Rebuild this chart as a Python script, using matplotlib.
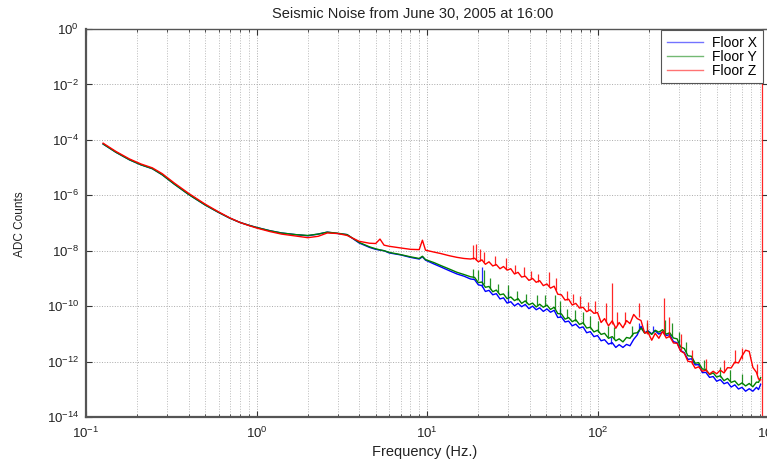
import numpy as np
import matplotlib
matplotlib.use("Agg")
import matplotlib.pyplot as plt
from matplotlib.ticker import LogLocator, NullFormatter, NullLocator

plt.rcParams['font.family'] = ['Liberation Sans', 'DejaVu Sans']

# ---------------- data (values stored as log10 of ADC counts) ----------------
freq_low = [0.126, 0.15, 0.18, 0.21, 0.245, 0.28, 0.33, 0.40, 0.50, 0.60, 0.70, 0.80,
            0.90, 1.0, 1.2, 1.4, 1.7, 2.0, 2.3, 2.6, 3.0, 3.4, 4.0, 4.6, 5.0, 5.3,
            5.6, 6.0, 7.0, 8.0, 9.0, 9.4, 9.8, 11.0, 12.0, 13.5, 15.0, 16.5, 18.0]

floor_x_low = [-4.15, -4.45, -4.72, -4.90, -5.04, -5.26, -5.60, -5.97, -6.35, -6.62, -6.83, -6.98,
               -7.08, -7.16, -7.28, -7.36, -7.42, -7.46, -7.40, -7.33, -7.38, -7.42, -7.72, -7.88,
               -7.95, -7.98, -8.00, -8.08, -8.15, -8.24, -8.30, -8.22, -8.34, -8.48, -8.58, -8.72,
               -8.84, -8.92, -9.02]
floor_y_low = [-4.15, -4.45, -4.72, -4.90, -5.04, -5.26, -5.60, -5.97, -6.35, -6.62, -6.83, -6.98,
               -7.08, -7.16, -7.28, -7.36, -7.42, -7.45, -7.40, -7.33, -7.37, -7.42, -7.70, -7.86,
               -7.93, -7.97, -8.00, -8.06, -8.14, -8.22, -8.28, -8.20, -8.32, -8.43, -8.53, -8.66,
               -8.78, -8.86, -8.94]
floor_z_low = [-4.12, -4.42, -4.69, -4.87, -5.01, -5.22, -5.56, -5.93, -6.32, -6.60, -6.82, -6.98,
               -7.09, -7.18, -7.31, -7.40, -7.47, -7.53, -7.48, -7.36, -7.38, -7.45, -7.66, -7.73,
               -7.74, -7.58, -7.80, -7.84, -7.90, -7.95, -7.96, -7.62, -7.98, -8.05, -8.10, -8.18,
               -8.24, -8.28, -8.30]

freq_high = [19.0, 20.0, 21.0, 22.0, 23.1, 24.3, 25.5, 26.8, 28.1, 29.5, 31.0, 32.6, 34.2, 35.9,
             37.7, 39.6, 41.6, 43.7, 45.8, 48.1, 50.5, 53.0, 55.7, 58.5, 61.4, 64.5, 67.7, 71.1,
             74.6, 78.4, 82.3, 86.4, 90.7, 95.3, 100, 105, 110, 116, 122, 128, 134, 141, 148,
             155, 163, 171, 180, 189, 198, 208, 218, 229, 241, 253, 265, 279, 293, 307, 323,
             339, 356, 374, 392, 412, 432, 454, 477, 500, 525, 552, 579, 608, 639, 671, 704,
             739, 776, 815, 856, 880, 905]

floor_x_high = [-9.04, -9.23, -9.26, -9.47, -9.43, -9.59, -9.55, -9.74, -9.70, -9.89, -9.84, -9.99,
                -9.90, -10.02, -9.94, -10.09, -10.00, -10.13, -10.06, -10.19, -10.10, -10.22,
                -10.15, -10.41, -10.39, -10.57, -10.54, -10.71, -10.65, -10.79, -10.75, -10.96,
                -10.92, -11.10, -11.06, -11.25, -11.21, -11.37, -11.32, -11.49, -11.39, -11.49,
                -11.38, -11.43, -11.20, -11.04, -10.73, -10.96, -10.89, -11.00, -10.89, -11.01,
                -10.93, -11.06, -11.03, -11.28, -11.32, -11.60, -11.68, -11.92, -11.90, -12.12,
                -12.11, -12.40, -12.39, -12.57, -12.54, -12.71, -12.65, -12.80, -12.75, -12.92,
                -12.84, -12.99, -12.93, -13.07, -12.98, -13.07, -12.93, -13.01, -12.82]
floor_y_high = [-8.96, -9.15, -9.13, -9.32, -9.29, -9.48, -9.42, -9.59, -9.56, -9.73, -9.67, -9.80,
                -9.73, -9.90, -9.81, -9.95, -9.89, -10.03, -9.93, -10.04, -9.96, -10.12, -10.04,
                -10.27, -10.28, -10.47, -10.41, -10.56, -10.49, -10.66, -10.60, -10.79, -10.76,
                -10.93, -10.87, -11.02, -10.98, -11.16, -11.10, -11.25, -11.18, -11.29, -11.13,
                -11.16, -10.98, -10.96, -10.79, -10.97, -10.92, -11.02, -10.87, -10.94, -10.85,
                -11.01, -10.96, -11.15, -11.18, -11.47, -11.53, -11.79, -11.81, -12.06, -12.04,
                -12.27, -12.28, -12.47, -12.41, -12.56, -12.51, -12.69, -12.61, -12.75, -12.70,
                -12.85, -12.77, -12.88, -12.79, -12.91, -12.74, -12.75, -12.58]
floor_z_high = [-8.27, -8.40, -8.33, -8.49, -8.40, -8.55, -8.50, -8.65, -8.57, -8.70, -8.65, -8.84,
                -8.78, -8.95, -8.92, -9.07, -9.00, -9.14, -9.08, -9.26, -9.20, -9.35, -9.28, -9.57,
                -9.59, -9.78, -9.75, -9.96, -9.90, -10.07, -10.04, -10.20, -10.13, -10.26, -10.23,
                -10.59, -10.45, -10.71, -10.53, -10.80, -10.59, -10.78, -10.52, -10.63, -10.30,
                -10.45, -10.52, -10.97, -10.95, -11.23, -10.98, -11.16, -10.91, -11.15, -11.09,
                -11.33, -11.34, -11.62, -11.70, -11.99, -12.01, -12.24, -12.19, -12.35, -12.31,
                -12.45, -12.35, -12.44, -12.31, -12.41, -12.22, -12.23, -12.02, -12.05, -11.80,
                -11.59, -11.63, -12.21, -12.39, -12.63, -12.66]

# narrow line peaks: frequency, local floor, peak (log10)
x_peak_freq = [21.0, 30.0, 60.0, 120.0, 176.0, 212.0, 300.0]
x_peak_base = [-9.30, -9.86, -10.40, -11.38, -10.90, -10.95, -11.45]
x_peak_top = [-8.58, -9.45, -10.10, -11.10, -10.60, -10.70, -11.20]

y_peak_freq = [18.5, 19.8, 21.5, 23.5, 26.0, 30.0, 33.5, 38.0, 44.0, 49.0, 56.0, 60.0, 66.0,
               74.0, 82.0, 90.0, 100.0, 115.0, 125.0, 160.0, 195.0, 250.0, 275.0, 300.0,
               330.0, 420.0, 520.0, 600.0, 700.0, 800.0]
y_peak_base = [-8.98, -9.05, -9.20, -9.38, -9.50, -9.68, -9.78, -9.88, -9.96, -10.00, -10.10,
               -10.28, -10.44, -10.55, -10.65, -10.78, -10.92, -11.10, -11.18, -11.08, -10.95,
               -10.94, -11.08, -11.30, -11.65, -12.25, -12.57, -12.70, -12.80, -12.85]
y_peak_top = [-8.65, -8.70, -8.70, -9.00, -9.20, -9.25, -9.45, -9.55, -9.60, -9.60, -9.60,
              -9.80, -10.10, -10.15, -10.20, -10.35, -10.55, -10.70, -10.75, -10.70, -10.60,
              -10.50, -10.60, -10.95, -11.30, -11.95, -12.20, -12.30, -12.45, -12.50]

z_peak_freq = [18.5, 19.5, 20.5, 21.5, 25.0, 29.0, 33.0, 37.0, 40.5, 45.0, 52.0, 57.0, 66.0,
               72.0, 79.0, 88.0, 97.0, 112.0, 121.0, 131.0, 145.0, 175.0, 196.0, 245.0, 262.0,
               310.0, 360.0, 430.0, 550.0, 640.0, 700.0, 860.0, 920.0]
z_peak_base = [-8.30, -8.33, -8.38, -8.42, -8.52, -8.65, -8.80, -8.93, -9.02, -9.13, -9.28,
               -9.40, -9.78, -9.90, -10.02, -10.15, -10.25, -10.58, -10.65, -10.68, -10.64,
               -10.40, -11.00, -11.02, -11.12, -11.58, -12.10, -12.30, -12.35, -12.06, -11.90,
               -12.45, -14.3]
z_peak_top = [-7.80, -7.75, -7.95, -8.05, -8.20, -8.28, -8.50, -8.60, -8.75, -8.85, -8.76,
              -9.00, -9.45, -9.55, -9.65, -9.85, -9.80, -9.90, -9.18, -10.20, -10.20, -9.90,
              -10.50, -9.70, -10.40, -11.00, -11.60, -11.90, -11.95, -11.60, -11.50, -12.10,
              0.5]

series_names = ['Floor X', 'Floor Y', 'Floor Z']
series_colors = ['#0000ff', '#008000', '#ff0000']

# ---------------- figure ----------------
fig = plt.figure(figsize=(7.67, 4.61), dpi=100)
ax = fig.add_axes([86 / 767, 1 - 417 / 461, (768 - 86) / 767, (417 - 29) / 461])

freq_all = np.array(freq_low + freq_high)
series = [
    (floor_x_low + floor_x_high, x_peak_freq, x_peak_base, x_peak_top),
    (floor_y_low + floor_y_high, y_peak_freq, y_peak_base, y_peak_top),
    (floor_z_low + floor_z_high, z_peak_freq, z_peak_base, z_peak_top),
]
for (vals, pf, pb, pt), name, col in zip(series, series_names, series_colors):
    ax.plot(freq_all, 10.0 ** np.array(vals), color=col, lw=1.0, label=name)
    ax.vlines(pf, 10.0 ** np.array(pb), 10.0 ** np.array(pt), color=col, lw=0.9, alpha=0.85)

ax.set_xscale('log')
ax.set_yscale('log')
ax.set_xlim(0.1, 1000)
ax.set_ylim(1e-14, 1)

ax.set_yticks([10.0 ** k for k in range(-14, 1, 2)])
ax.yaxis.set_minor_locator(NullLocator())
ax.xaxis.set_major_locator(LogLocator(base=10, numticks=10))
ax.xaxis.set_minor_locator(LogLocator(base=10, subs=np.arange(2, 10), numticks=20))
ax.xaxis.set_minor_formatter(NullFormatter())

ax.tick_params(which='both', direction='in', top=True, right=True, labelsize=9.5,
               colors='#333333', labelcolor='#222222')
ax.tick_params(which='major', length=4, width=0.8)
ax.tick_params(which='minor', length=2, width=0.6)
ax.tick_params(axis='x', pad=6)
ax.tick_params(axis='y', pad=5)

ax.grid(True, which='major', axis='both', linestyle=':', color='#aaaaaa', lw=0.7)
ax.grid(True, which='minor', axis='x', linestyle=':', color='#bbbbbb', lw=0.7)
ax.set_axisbelow(True)

for side, sp in ax.spines.items():
    sp.set_color('#555555')
    sp.set_linewidth(1.0)
ax.spines['left'].set_linewidth(1.6)
ax.spines['bottom'].set_linewidth(1.6)

leg = ax.legend(loc='upper right', bbox_to_anchor=(763 / 767, 1 - 30 / 461),
                bbox_transform=fig.transFigure, borderaxespad=0, fancybox=False,
                framealpha=1, edgecolor='#555555', fontsize=10, handlelength=2.6,
                handletextpad=0.7, labelspacing=0.0, borderpad=0.4)
leg.get_frame().set_linewidth(0.8)
for line in leg.get_lines():
    line.set_linewidth(1.0)
    line.set_alpha(0.55)

fig.text(413 / 767, 1 - 14 / 461, 'Seismic Noise from June 30, 2005 at 16:00',
         ha='center', va='center', fontsize=10.5, color='#222222')
fig.text(425 / 767, 1 - 452 / 461, 'Frequency (Hz.)', ha='center', va='center',
         fontsize=10.5, color='#222222')
fig.text(20 / 767, 1 - 224 / 461, 'ADC Counts', ha='center', va='center',
         rotation=90, fontsize=8.5, color='#222222')

fig.savefig('out.png', dpi=100)
